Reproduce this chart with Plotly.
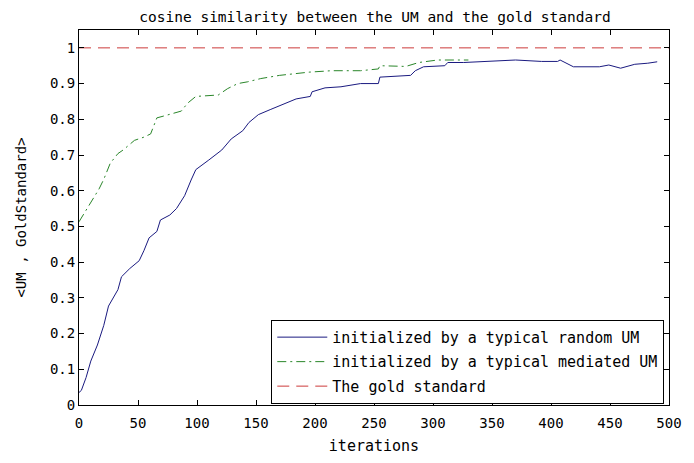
import plotly.graph_objects as go

# ---- data ----
random_x = [0, 2, 6, 10, 15.6, 21, 25, 29, 33, 36, 43, 51, 55, 59.4, 66, 69, 77, 82.6, 89.5, 95, 99,
            110, 121, 129, 138.8, 144, 152, 162, 173, 184, 196, 197.5, 208.5, 222, 238.6, 253.7, 255,
            268.7, 281, 285, 292, 310, 312.5, 326, 345, 370, 392, 405.6, 407.7, 419, 441, 449, 459,
            471, 482, 490]
random_y = [0.035, 0.041, 0.077, 0.123, 0.168, 0.223, 0.277, 0.30, 0.323, 0.359, 0.382, 0.404, 0.432,
            0.468, 0.486, 0.518, 0.532, 0.55, 0.586, 0.63, 0.659, 0.686, 0.714, 0.745, 0.768, 0.791,
            0.813, 0.827, 0.841, 0.857, 0.864, 0.877, 0.888, 0.891, 0.90, 0.90, 0.918, 0.92, 0.923,
            0.936, 0.947, 0.95, 0.959, 0.959, 0.962, 0.966, 0.962, 0.962, 0.966, 0.947, 0.947, 0.952,
            0.943, 0.954, 0.957, 0.961]

mediated_x = [0, 8.7, 17, 21, 26.5, 33, 37.4, 47, 55, 60.7, 66, 71.7, 86.7, 92, 99, 118, 126, 134.6,
              143, 154, 170, 195, 214, 238.6, 253.7, 255, 277, 288, 304, 323.5, 330]
mediated_y = [0.513, 0.559, 0.605, 0.632, 0.677, 0.704, 0.714, 0.741, 0.75, 0.759, 0.804, 0.809, 0.823,
              0.845, 0.864, 0.868, 0.886, 0.90, 0.905, 0.914, 0.923, 0.932, 0.936, 0.936, 0.941, 0.95,
              0.948, 0.959, 0.966, 0.966, 0.966]

gold_x = [0, 500]
gold_y = [1, 1]

x_ticks = [0, 50, 100, 150, 200, 250, 300, 350, 400, 450, 500]
y_ticks = [0, 0.1, 0.2, 0.3, 0.4, 0.5, 0.6, 0.7, 0.8, 0.9, 1]
y_tick_text = ["0", "0.1", "0.2", "0.3", "0.4", "0.5", "0.6", "0.7", "0.8", "0.9", "1"]

names = ["initialized by a typical random UM",
         "initialized by a typical mediated UM",
         "The gold standard"]

FONT = "DejaVu Sans Mono"

fig = go.Figure()
fig.add_trace(go.Scatter(x=random_x, y=random_y, mode="lines", name=names[0], legendgroup="a",
                         line=dict(color="#1a1a80", width=1)))
fig.add_trace(go.Scatter(x=mediated_x, y=mediated_y, mode="lines", name=names[1], legendgroup="b",
                         line=dict(color="#2a862a", width=1, dash="9px,4px,2px,4px")))
fig.add_trace(go.Scatter(x=gold_x, y=gold_y, mode="lines", name=names[2], legendgroup="c",
                         line=dict(color="#cc3a3a", width=1, dash="12px,7px")))

axis_common = dict(showline=True, linecolor="black", linewidth=1, mirror="ticks",
                   ticks="inside", ticklen=5, tickcolor="black", showgrid=False,
                   zeroline=False, ticklabeloverflow="allow",
                   tickfont=dict(family=FONT, size=14, color="black"))

# the page body has an 8px margin, so the figure is sized/offset to compensate
fig.update_layout(
    width=686, height=455,
    margin=dict(l=65, r=12, t=22, b=48),
    paper_bgcolor="white", plot_bgcolor="white",
    font=dict(family=FONT, size=15, color="black"),
    title=dict(text="cosine similarity between the UM and the gold standard",
               x=367 / 686, xanchor="center", y=1 - 4 / 455, yanchor="top",
               yref="container", pad=dict(t=0, b=0, l=0, r=0),
               font=dict(family=FONT, size=14.5, color="black")),
    xaxis=dict(range=[0, 500], tickvals=x_ticks, ticktext=[str(v) for v in x_ticks],
               ticklabelstandoff=5,
               title=dict(text="iterations", standoff=10, font=dict(family=FONT, size=15)),
               **axis_common),
    yaxis=dict(range=[0, 1.05], tickvals=y_ticks, ticktext=y_tick_text,
               title=dict(text="<UM , GoldStandard>", standoff=20, font=dict(family=FONT, size=14)),
               **axis_common),
    legend=dict(x=0.992, xanchor="right", y=0.003, yanchor="bottom",
                bgcolor="white", bordercolor="black", borderwidth=1,
                font=dict(family=FONT, size=15, color="black"),
                tracegroupgap=2, itemwidth=50, traceorder="grouped"),
    showlegend=True,
)

fig.write_html("out.html")
